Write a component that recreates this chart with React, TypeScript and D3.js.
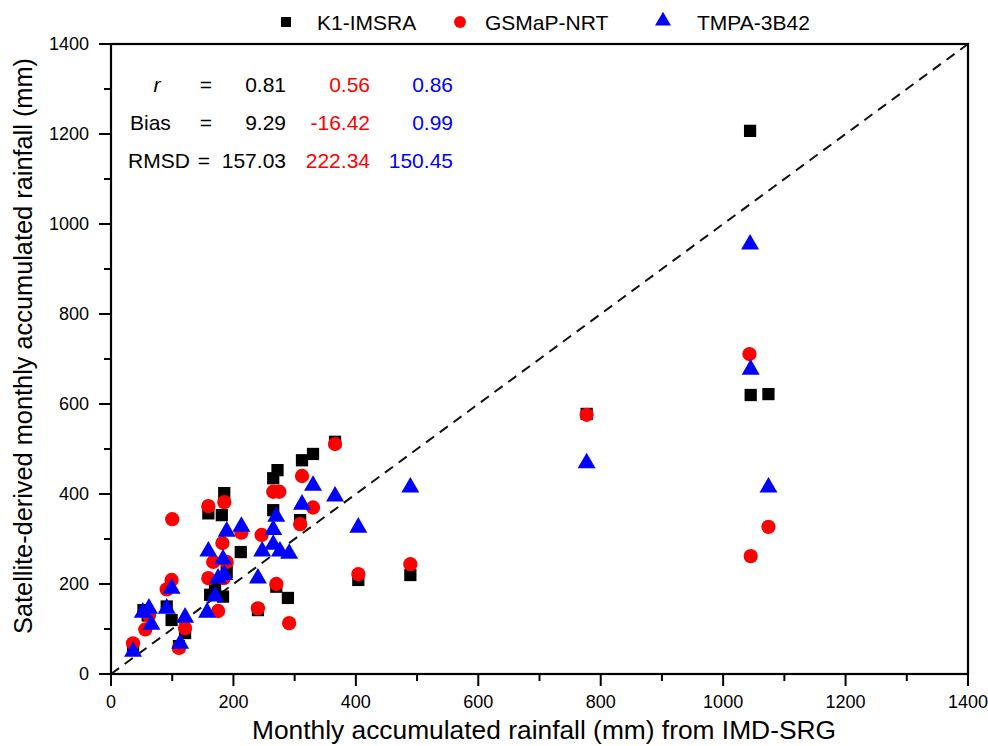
import React from 'react'
import { scaleLinear, range, symbol, symbolSquare, symbolCircle, symbolTriangle } from 'd3'

// estimated [IMD-SRG, satellite] pairs, mm
const k1Points = [
  [36, 62], [53, 142], [60, 130], [91, 150], [99, 120], [111, 62], [121, 91], [159, 357], [162, 176],
  [170, 190], [181, 353], [183, 172], [185, 402], [189, 227], [212, 271], [240, 142], [265, 364],
  [265, 435], [272, 453], [270, 194], [289, 169], [309, 342], [312, 475], [330, 489], [366, 516],
  [404, 209], [489, 220], [777, 578], [1044, 1207], [1045, 620], [1074, 622],
]
const gsmapPoints = [
  [36, 68], [56, 99], [62, 130], [91, 188], [99, 209], [100, 344], [111, 58], [121, 102], [159, 373],
  [159, 213], [167, 249], [175, 140], [182, 291], [184, 213], [185, 382], [189, 249], [213, 314],
  [240, 146], [246, 309], [265, 405], [275, 405], [270, 200], [291, 113], [309, 333], [312, 440],
  [330, 370], [366, 511], [404, 222], [489, 244], [777, 576], [1043, 711], [1045, 262], [1074, 327],
]
const tmpaPoints = [
  [36, 53], [52, 140], [62, 149], [66, 113], [91, 149], [99, 193], [113, 71], [121, 129], [157, 140],
  [159, 276], [170, 176], [175, 216], [183, 258], [185, 224], [189, 320], [213, 331], [240, 216],
  [247, 276], [265, 291], [265, 324], [270, 353], [276, 276], [291, 271], [312, 380], [330, 422],
  [366, 398], [404, 329], [489, 418], [777, 472], [1044, 958], [1045, 680], [1074, 418],
]

const seriesNames = ['K1-IMSRA', 'GSMaP-NRT', 'TMPA-3B42']
const seriesColors = ['#000000', '#ff0000', '#0000ff']

const statLabels = ['r', 'Bias', 'RMSD']
const statValues = [
  ['0.81', '0.56', '0.86'],
  ['9.29', '-16.42', '0.99'],
  ['157.03', '222.34', '150.45'],
]

const majorTicks = range(0, 1401, 200)
const minorTicks = range(100, 1400, 200)

export default function App() {
  const W = 988, H = 746
  const m = { top: 44, right: 20, bottom: 72, left: 111 }
  const x = scaleLinear().domain([0, 1400]).range([m.left, W - m.right])
  const y = scaleLinear().domain([0, 1400]).range([H - m.bottom, m.top])

  const sq = symbol().type(symbolSquare).size(150)()
  const ci = symbol().type(symbolCircle).size(160)()
  const tr = symbol().type(symbolTriangle).size(140)()
  const shapes = [sq, ci, tr]
  const all = [k1Points, gsmapPoints, tmpaPoints]
  const font = 'Arial, "Liberation Sans", sans-serif'

  const x0 = x(0), y0 = y(0)

  return (
    <svg width={W} height={H} style={{ position: 'absolute', left: 0, top: 0 }} fontFamily={font}>
      <rect width={W} height={H} fill="#fff" />

      {/* 1:1 line */}
      <line x1={x(0)} y1={y(0)} x2={x(1400)} y2={y(1400)} stroke="#111" strokeWidth={2} strokeDasharray="10,7" />

      {all.map((pts, si) => (
        <g key={si} fill={seriesColors[si]}>
          {pts.map((d, i) => (
            <path key={i} d={shapes[si]} transform={`translate(${x(d[0])},${y(d[1]) + (si === 2 ? 1.5 : 0)})`} />
          ))}
        </g>
      ))}

      {/* frame */}
      <rect x={x0} y={y(1400)} width={x(1400) - x0} height={y0 - y(1400)} fill="none" stroke="#000" strokeWidth={2.2} />

      {/* x axis */}
      {majorTicks.map(t => (
        <g key={'xt' + t}>
          <line x1={x(t)} x2={x(t)} y1={y0} y2={y0 + 12} stroke="#000" strokeWidth={2} />
          <text x={x(t)} y={y0 + 34} textAnchor="middle" fontSize={18}>{t}</text>
        </g>
      ))}
      {minorTicks.map(t => (
        <line key={'xm' + t} x1={x(t)} x2={x(t)} y1={y0} y2={y0 + 7} stroke="#000" strokeWidth={2} />
      ))}

      {/* y axis */}
      {majorTicks.map(t => (
        <g key={'yt' + t}>
          <line x1={x0} x2={x0 - 12} y1={y(t)} y2={y(t)} stroke="#000" strokeWidth={2} />
          <text x={x0 - 22} y={y(t) + 6} textAnchor="end" fontSize={18}>{t}</text>
        </g>
      ))}
      {minorTicks.map(t => (
        <line key={'ym' + t} x1={x0} x2={x0 - 7} y1={y(t)} y2={y(t)} stroke="#000" strokeWidth={2} />
      ))}

      <text x={544} y={739} textAnchor="middle" fontSize={25} textLength={584} lengthAdjust="spacingAndGlyphs">
        Monthly accumulated rainfall (mm) from IMD-SRG
      </text>
      <text transform={`translate(32,346) rotate(-90)`} textAnchor="middle" fontSize={25}
        textLength={576} lengthAdjust="spacingAndGlyphs">
        Satellite-derived monthly accumulated rainfall (mm)
      </text>

      {/* legend */}
      {[286, 460, 663].map((lx, i) => (
        <g key={'lg' + i}>
          <path d={symbol().type([symbolSquare, symbolCircle, symbolTriangle][i]).size(i === 0 ? 100 : 110)()}
            transform={`translate(${lx},${i === 2 ? 21 : 22})`} fill={seriesColors[i]} />
          <text x={lx + [31, 25, 34][i]} y={30} fontSize={21}>{seriesNames[i]}</text>
        </g>
      ))}

      {/* stats */}
      {statLabels.map((lab, r) => {
        const by = 92 + r * 38
        return (
          <g key={'st' + r} fontSize={21}>
            {r === 0 && <text x={157} y={by} fontStyle="italic" textAnchor="middle">r</text>}
            {r === 1 && <text x={130} y={by}>Bias</text>}
            {r === 2 && <text x={128} y={by}>RMSD</text>}
            <text x={r === 2 ? 204 : 206} y={by} textAnchor="middle">=</text>
            <text x={286} y={by} textAnchor="end" fill={seriesColors[0]}>{statValues[r][0]}</text>
            <text x={370} y={by} textAnchor="end" fill={seriesColors[1]}>{statValues[r][1]}</text>
            <text x={453} y={by} textAnchor="end" fill={seriesColors[2]}>{statValues[r][2]}</text>
          </g>
        )
      })}
    </svg>
  )
}
